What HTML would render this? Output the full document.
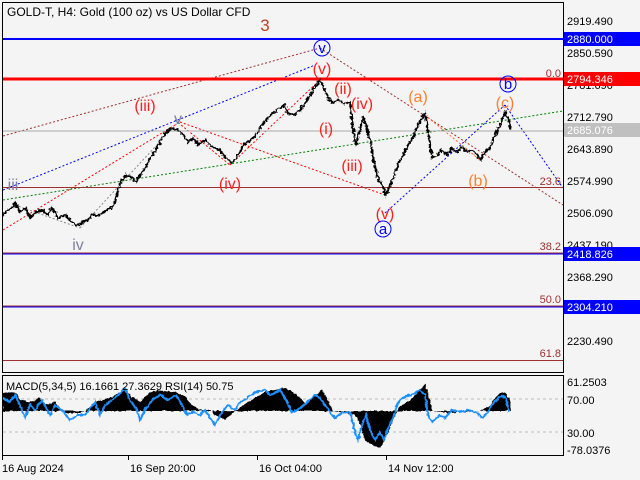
<!DOCTYPE html><html><head><style>body{margin:0;background:#fff}svg{display:block}text{font-family:"Liberation Sans",sans-serif}</style></head><body>
<svg width="640" height="480" viewBox="0 0 640 480" xmlns="http://www.w3.org/2000/svg">
<defs><filter id="j" x="-5%" y="-5%" width="110%" height="110%"><feTurbulence type="fractalNoise" baseFrequency="0.35" numOctaves="2" seed="3"/><feDisplacementMap in="SourceGraphic" scale="5" xChannelSelector="R" yChannelSelector="G"/></filter>
<filter id="k" x="-5%" y="-5%" width="110%" height="110%"><feTurbulence type="fractalNoise" baseFrequency="0.3" numOctaves="2" seed="7"/><feDisplacementMap in="SourceGraphic" scale="3" xChannelSelector="R" yChannelSelector="G"/></filter></defs>
<rect width="640" height="480" fill="#f4f4f4"/>
<rect x="2.5" y="2.5" width="561" height="370" fill="#f4f4f4" stroke="#000"/>
<rect x="2.5" y="375.5" width="561" height="80" fill="#f4f4f4" stroke="#000"/>
<text x="7" y="16" font-size="12">GOLD-T, H4:  Gold (100 oz) vs US Dollar CFD</text>
<g fill="none" stroke-width="1" stroke-dasharray="2,2">
<line x1="3" y1="136" x2="320" y2="48" stroke="#a03030"/>
<line x1="320" y1="48" x2="563" y2="205" stroke="#a03030"/>
<line x1="3" y1="190" x2="315" y2="65" stroke="#0000ff"/>
<line x1="385" y1="213" x2="505" y2="105" stroke="#0000ff"/>
<line x1="505" y1="105" x2="563" y2="188" stroke="#0000ff"/>
<line x1="3" y1="200" x2="563" y2="111" stroke="#008000"/>
<line x1="3" y1="230" x2="175" y2="125" stroke="#ff0000"/>
<line x1="175" y1="120" x2="230" y2="165" stroke="#ff0000"/>
<line x1="230" y1="165" x2="320" y2="80" stroke="#ff0000"/>
<line x1="180" y1="122" x2="385" y2="195" stroke="#ff0000"/>
<line x1="425" y1="115" x2="480" y2="160" stroke="#ff6020"/>
<line x1="15" y1="205" x2="80" y2="228" stroke="#888"/>
<line x1="80" y1="228" x2="180" y2="120" stroke="#888"/>
</g>
<line x1="3" y1="131" x2="563" y2="131" stroke="#aaa"/>
<line x1="3" y1="39" x2="563" y2="39" stroke="#0000ff" stroke-width="2"/>
<line x1="3" y1="79" x2="563" y2="79" stroke="#ff0000" stroke-width="3"/>
<line x1="3" y1="187.5" x2="563" y2="187.5" stroke="#a03030"/>
<line x1="3" y1="253.5" x2="563" y2="253.5" stroke="#0000ff" stroke-width="2"/>
<line x1="3" y1="253" x2="563" y2="253" stroke="#a03030"/>
<line x1="3" y1="306.5" x2="563" y2="306.5" stroke="#0000ff" stroke-width="2"/>
<line x1="3" y1="306" x2="563" y2="306" stroke="#a03030"/>
<line x1="3" y1="360.5" x2="563" y2="360.5" stroke="#a03030"/>
<g fill="#a03030" font-size="11" text-anchor="end"><text x="561" y="77">0.0</text><text x="561" y="185">23.6</text><text x="561" y="250">38.2</text><text x="561" y="303">50.0</text><text x="561" y="357">61.8</text></g>
<polyline filter="url(#j)" fill="none" stroke="#000" stroke-width="2" points="3,215 8,210 12,208 15,203 20,212 26,208 30,218 36,212 42,210 48,215 52,208 58,218 65,215 72,222 78,226 82,222 88,220 92,214 98,216 104,212 110,208 114,205 118,190 122,180 126,175 132,178 136,182 140,175 145,168 150,158 155,152 160,142 165,133 172,128 178,130 183,135 188,142 193,138 198,145 205,140 212,147 220,150 226,158 232,163 238,155 244,145 250,140 256,135 262,125 268,118 274,112 280,108 284,105 288,113 294,115 300,110 306,102 312,92 316,85 320,80 324,88 328,98 333,103 338,100 344,104 350,102 353,130 356,145 360,130 363,118 366,124 370,140 374,162 378,178 382,185 386,195 390,185 394,176 398,165 403,155 408,145 413,138 418,125 422,118 425,113 428,130 432,158 437,155 442,150 447,155 452,148 457,152 462,147 467,152 472,150 477,155 481,160 485,152 490,148 495,135 500,125 505,112 508,118 511,130"/>
<g font-size="16" text-anchor="middle">
<text x="265" y="31" fill="#c04020" font-size="17">3</text>
<text x="322" y="74" fill="#ff2020">(v)</text>
<text x="145" y="111" fill="#ff2020">(iii)</text>
<text x="230" y="189" fill="#ff2020">(iv)</text>
<text x="326" y="134" fill="#ff2020">(i)</text>
<text x="343" y="94" fill="#ff2020">(ii)</text>
<text x="362" y="109" fill="#ff2020">(iv)</text>
<text x="352" y="171" fill="#ff2020">(iii)</text>
<text x="385" y="219" fill="#ff2020">(v)</text>
<text x="418" y="102" fill="#ff8030">(a)</text>
<text x="478" y="186" fill="#ff8030">(b)</text>
<text x="505" y="108" fill="#ff8030">(c)</text>
<text x="13" y="190" fill="#8080a0">iii</text>
<text x="178" y="124" fill="#8080a0">v</text>
<text x="78" y="250" fill="#8080a0">iv</text>
</g>
<g fill="none" stroke="#0000ff"><circle cx="322" cy="48" r="8"/><circle cx="383" cy="229" r="8"/><circle cx="508" cy="84" r="8"/></g>
<g fill="#0000ff" font-size="15" text-anchor="middle"><text x="322" y="53">v</text><text x="383" y="234">a</text><text x="508" y="89">b</text></g>
<g font-size="11" fill="#000">
<text x="567" y="25">2919.490</text><text x="567" y="57">2850.590</text><text x="567" y="89">2781.690</text><text x="567" y="121">2712.790</text><text x="567" y="153">2643.890</text><text x="567" y="185">2574.990</text><text x="567" y="217">2506.090</text><text x="567" y="249">2437.190</text><text x="567" y="281">2368.290</text><text x="567" y="345">2230.490</text>
</g>
<rect x="564" y="32" width="76" height="14" fill="#0000ff"/><text x="567" y="43" font-size="11" fill="#fff">2880.000</text>
<rect x="564" y="72" width="76" height="14" fill="#ff0000"/><text x="567" y="83" font-size="11" fill="#fff">2794.346</text>
<rect x="564" y="123" width="76" height="14" fill="#c0c0c0"/><text x="567" y="134" font-size="11" fill="#fff">2685.076</text>
<rect x="564" y="247" width="76" height="14" fill="#0000ff"/><text x="567" y="258" font-size="11" fill="#fff">2418.826</text>
<rect x="564" y="300" width="76" height="14" fill="#0000ff"/><text x="567" y="311" font-size="11" fill="#fff">2304.210</text>
<line x1="3" y1="399" x2="563" y2="399" stroke="#bbb" stroke-dasharray="3,3"/>
<line x1="3" y1="432" x2="563" y2="432" stroke="#bbb" stroke-dasharray="3,3"/>
<polygon filter="url(#k)" fill="#000" points="3,411 3,393 15,392 20,400 30,402 40,398 45,405 55,402 62,410 65,413 80,413 85,411 95,402 110,398 120,392 125,388 130,395 140,402 150,392 160,390 175,392 185,396 190,403 200,410 210,410 215,415 225,420 235,411 245,404 255,398 265,392 275,390 285,388 295,393 305,403 315,396 322,390 328,400 333,411 345,413 355,415 360,425 365,440 372,445 380,448 385,440 390,428 395,416 400,406 410,400 420,390 425,384 430,400 432,411 450,413 480,411 490,406 495,398 500,393 505,392 510,400 511,411"/>
<polyline filter="url(#k)" fill="none" stroke="#1e90ff" stroke-width="2" points="3,398 10,402 15,395 20,405 25,418 30,405 35,410 42,400 50,415 55,405 62,410 70,420 78,415 85,415 95,402 100,415 105,405 112,400 118,395 125,388 130,400 137,410 140,420 145,410 152,400 160,395 168,400 176,395 182,405 187,415 192,412 200,415 205,410 210,418 215,425 220,415 228,405 235,410 240,402 245,400 250,395 257,392 265,390 270,395 275,393 280,390 286,400 292,412 297,410 303,406 310,400 315,395 320,398 325,405 330,412 335,418 342,413 350,412 355,432 358,440 362,425 366,415 370,430 375,440 380,432 384,440 388,428 393,418 397,405 402,398 408,396 414,394 420,390 425,395 428,415 432,422 440,415 445,418 452,410 460,412 468,410 476,412 483,418 488,412 492,405 498,398 502,396 506,398 509,412"/>
<text x="6" y="390" font-size="11">MACD(5,34,5) 16.1661 27.3629 RSI(14) 50.75</text>
<g font-size="11"><text x="567" y="386">61.2503</text><text x="567" y="404">70.00</text><text x="567" y="437">30.00</text><text x="567" y="454">-78.0376</text></g>
<g stroke="#000"><line x1="2.5" y1="456" x2="2.5" y2="460"/><line x1="128.5" y1="456" x2="128.5" y2="460"/><line x1="257.5" y1="456" x2="257.5" y2="460"/><line x1="386.5" y1="456" x2="386.5" y2="460"/></g>
<g font-size="11"><text x="2" y="472">16 Aug 2024</text><text x="130" y="472">16 Sep 20:00</text><text x="259" y="472">16 Oct 04:00</text><text x="388" y="472">14 Nov 12:00</text></g>
</svg></body></html>
